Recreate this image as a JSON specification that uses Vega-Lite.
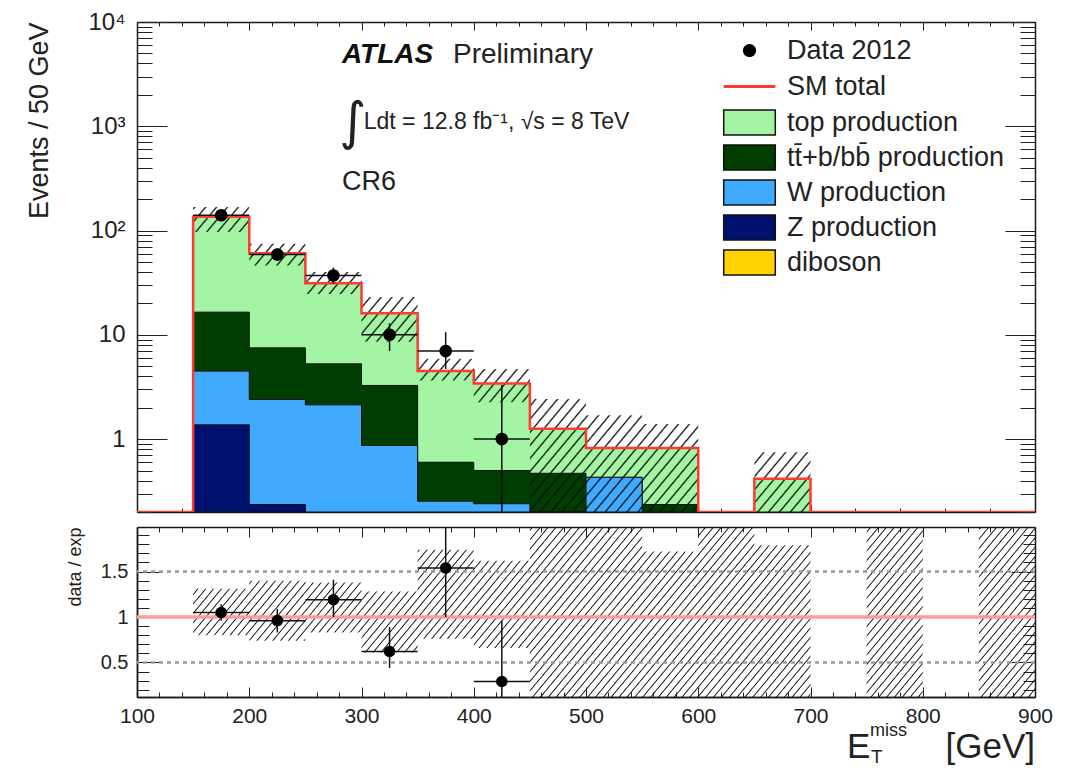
{
"$schema": "https://vega.github.io/schema/vega-lite/v6.json",
"background": "white",
"padding": {"left": 25, "top": 10, "right": 10, "bottom": 0},
"spacing": 2,
"config": {
  "font": "Liberation Sans",
  "view": {"stroke": null},
  "axis": {"domain": true, "domainColor": "#1a1a1a", "domainWidth": 1.5, "grid": false, "zindex": 1, "labelFont": "Liberation Sans", "titleFont": "Liberation Sans", "labelColor": "#222", "titleColor": "#222", "tickColor": "#222", "tickWidth": 1, "titleFontWeight": "normal", "labelOverlap": false, "labelFlush": false, "labelBound": false},
  "legend": {"title": null, "orient": "none", "padding": 0, "labelFont": "Liberation Sans", "labelFontSize": 27, "labelColor": "#222", "labelLimit": 0, "labelOffset": 24, "symbolSize": 576, "rowPadding": 5, "symbolOpacity": 1}
},
"resolve": {"scale": {"color": "independent", "stroke": "independent", "shape": "independent"}, "legend": {"color": "independent", "stroke": "independent", "shape": "independent"}},
"datasets": {
  "sm": [{"x0":100,"v":0},{"x0":150,"v":136},{"x0":200,"v":60.7},{"x0":250,"v":31.3},{"x0":300,"v":16.1},{"x0":350,"v":4.5},{"x0":400,"v":3.42},{"x0":450,"v":1.26},{"x0":500,"v":0.82},{"x0":550,"v":0.82},{"x0":600,"v":0},{"x0":650,"v":0.417},{"x0":700,"v":0},{"x0":750,"v":0},{"x0":800,"v":0},{"x0":850,"v":0},{"x0":900,"v":0}],
  "ttbb": [{"x0":150,"v":16.5,"p":"tt\u0304+b/bb\u0304 production"},{"x0":200,"v":7.5,"p":"tt\u0304+b/bb\u0304 production"},{"x0":250,"v":5.27,"p":"tt\u0304+b/bb\u0304 production"},{"x0":300,"v":3.27,"p":"tt\u0304+b/bb\u0304 production"},{"x0":350,"v":0.6,"p":"tt\u0304+b/bb\u0304 production"},{"x0":400,"v":0.5,"p":"tt\u0304+b/bb\u0304 production"},{"x0":450,"v":0.47,"p":"tt\u0304+b/bb\u0304 production"},{"x0":500,"v":0.43,"p":"tt\u0304+b/bb\u0304 production"},{"x0":550,"v":0.236,"p":"tt\u0304+b/bb\u0304 production"},{"x0":600,"v":0.236,"p":"tt\u0304+b/bb\u0304 production"}],
  "wprod": [{"x0":150,"v":4.49,"p":"W production"},{"x0":200,"v":2.4,"p":"W production"},{"x0":250,"v":2.13,"p":"W production"},{"x0":300,"v":0.87,"p":"W production"},{"x0":350,"v":0.254,"p":"W production"},{"x0":400,"v":0.24,"p":"W production"},{"x0":450,"v":0,"p":"W production"},{"x0":500,"v":0.43,"p":"W production"},{"x0":550,"v":0.43,"p":"W production"}],
  "zprod": [{"x0":150,"v":1.37,"p":"Z production"},{"x0":200,"v":0.236,"p":"Z production"},{"x0":250,"v":0.236,"p":"Z production"}],
  "unc": [{"x0":150,"lo":96.6,"hi":168},{"x0":200,"lo":46.3,"hi":74.6},{"x0":250,"lo":24.7,"hi":40},{"x0":300,"lo":8.6,"hi":23},{"x0":350,"lo":3.65,"hi":5.9},{"x0":400,"lo":2.26,"hi":4.7},{"x0":450,"lo":0,"hi":2.43},{"x0":500,"lo":0,"hi":1.69},{"x0":550,"lo":0,"hi":1.4},{"x0":600,"lo":0,"hi":0},{"x0":650,"lo":0,"hi":0.75},{"x0":700,"lo":0,"hi":0.75}],
  "obs": [{"x":175,"x0":150,"x1":200,"n":140,"lo":128.7,"hi":151.9},{"x":225,"x0":200,"x1":250,"n":59,"lo":51.3,"hi":67.7},{"x":275,"x0":250,"x1":300,"n":37,"lo":30.9,"hi":44.1},{"x":325,"x0":300,"x1":350,"n":10,"lo":7.0,"hi":12.9},{"x":375,"x0":350,"x1":400,"n":7,"lo":4.7,"hi":10.6},{"x":425,"x0":400,"x1":450,"n":1,"lo":0.17,"hi":3.3}],
  "ratio": [{"x":175,"x0":150,"x1":200,"r":1.05,"lo":0.96,"hi":1.14},{"x":225,"x0":200,"x1":250,"r":0.96,"lo":0.83,"hi":1.09},{"x":275,"x0":250,"x1":300,"r":1.19,"lo":1.0,"hi":1.41},{"x":325,"x0":300,"x1":350,"r":0.62,"lo":0.44,"hi":0.89},{"x":375,"x0":350,"x1":400,"r":1.54,"lo":1.0,"hi":2.37},{"x":425,"x0":400,"x1":450,"r":0.29,"lo":0.05,"hi":0.96}],
  "runc": [{"x0":150,"lo":0.8,"hi":1.31},{"x0":200,"lo":0.74,"hi":1.4},{"x0":250,"lo":0.83,"hi":1.38},{"x0":300,"lo":0.61,"hi":1.28},{"x0":350,"lo":0.76,"hi":1.74},{"x0":400,"lo":0.66,"hi":1.62},{"x0":450,"lo":0.12,"hi":1.99},{"x0":500,"lo":0.12,"hi":1.99},{"x0":550,"lo":0.12,"hi":1.72},{"x0":600,"lo":0.12,"hi":1.99},{"x0":650,"lo":0.12,"hi":1.79},{"x0":700,"lo":1,"hi":1},{"x0":750,"lo":0.12,"hi":1.99},{"x0":800,"lo":1,"hi":1},{"x0":850,"lo":0.12,"hi":1.99},{"x0":900,"lo":0.12,"hi":1.99}],
  "refs": [{"r":0.5},{"r":1.5}],
  "unity": [{"r":1}]
},
"vconcat": [
{
  "width": 898, "height": 490,
  "layer": [
    {"layer": [
      {"data": {"name": "sm"},
       "mark": {"type": "area", "interpolate": "step-after", "fill": "#a3f5a3", "stroke": "#111", "strokeWidth": 1, "opacity": 1, "clip": true},
       "encoding": {
         "x": {"field": "x0", "type": "quantitative", "scale": {"domain": [100, 900], "nice": false, "zero": false},
               "axis": {"title": null, "labels": false, "labelOverlap": false, "values": [100,120,140,160,180,200,220,240,260,280,300,320,340,360,380,400,420,440,460,480,500,520,540,560,580,600,620,640,660,680,700,720,740,760,780,800,820,840,860,880,900],
                        "tickSize": {"condition": {"test": "datum.value % 100 === 0", "value": -8}, "value": -4}}},
         "y": {"field": "v", "type": "quantitative", "stack": null, "scale": {"type": "log", "domain": [0.2, 10000], "nice": false, "clamp": true},
               "axis": {"title": "Events / 50 GeV", "titleAnchor": "end", "titleFontSize": 27, "titlePadding": 34, "labelOverlap": false,
                        "values": [0.2,0.3,0.4,0.5,0.6,0.7,0.8,0.9,1,2,3,4,5,6,7,8,9,10,20,30,40,50,60,70,80,90,100,200,300,400,500,600,700,800,900,1000,2000,3000,4000,5000,6000,7000,8000,9000,10000],
                        "labelExpr": "datum.value === 10000 ? '10⁴' : datum.value === 1000 ? '10³' : datum.value === 100 ? '10²' : datum.value === 10 ? '10' : datum.value === 1 ? '1' : ''",
                        "labelFontSize": 24, "labelPadding": 42,
                        "tickSize": {"condition": {"test": "datum.value === 1 || datum.value === 10 || datum.value === 100 || datum.value === 1000 || datum.value === 10000", "value": -30}, "value": -15}}}
       }},
      {"data": {"name": "ttbb"},
       "mark": {"type": "area", "interpolate": "step-after", "stroke": "#111", "strokeWidth": 1, "opacity": 1, "fillOpacity": 1, "clip": true},
       "encoding": {
         "x": {"field": "x0", "type": "quantitative"},
         "y": {"field": "v", "type": "quantitative", "stack": null},
         "color": {"field": "p", "type": "nominal",
                   "scale": {"domain": ["top production", "tt\u0304+b/bb\u0304 production", "W production", "Z production", "diboson"],
                             "range": ["#a3f5a3", "#003d00", "#40aaff", "#00106e", "#ffd200"]},
                   "legend": {"legendX": 599, "legendY": 87, "rowPadding": 2, "symbolType": "M-2.15,-1.05H2.15V1.05H-2.15Z", "symbolStrokeColor": "#111", "symbolStrokeWidth": 1.5}}
       }},
      {"data": {"name": "wprod"},
       "mark": {"type": "area", "interpolate": "step-after", "stroke": "#111", "strokeWidth": 1, "opacity": 1, "fillOpacity": 1, "clip": true},
       "encoding": {
         "x": {"field": "x0", "type": "quantitative"},
         "y": {"field": "v", "type": "quantitative", "stack": null},
         "color": {"field": "p", "type": "nominal"}
       }},
      {"data": {"name": "zprod"},
       "mark": {"type": "area", "interpolate": "step-after", "stroke": "#111", "strokeWidth": 1, "opacity": 1, "fillOpacity": 1, "clip": true},
       "encoding": {
         "x": {"field": "x0", "type": "quantitative"},
         "y": {"field": "v", "type": "quantitative", "stack": null},
         "color": {"field": "p", "type": "nominal"}
       }},
      {"data": {"name": "unc"},
       "mark": {"type": "area", "interpolate": "step-after", "opacity": 1, "clip": true,
                "fill": {"gradient": "linear", "x1": 0, "y1": 0, "x2": 1.2071, "y2": 0.4968, "stops": [
{"offset":0,"color":"transparent"},{"offset":0.0019,"color":"#111"},{"offset":0.0038,"color":"transparent"},{"offset":0.0125,"color":"transparent"},{"offset":0.0144,"color":"#111"},{"offset":0.0163,"color":"transparent"},{"offset":0.025,"color":"transparent"},{"offset":0.0269,"color":"#111"},{"offset":0.0288,"color":"transparent"},{"offset":0.0375,"color":"transparent"},{"offset":0.0394,"color":"#111"},{"offset":0.0413,"color":"transparent"},{"offset":0.05,"color":"transparent"},{"offset":0.0519,"color":"#111"},{"offset":0.0538,"color":"transparent"},{"offset":0.0625,"color":"transparent"},{"offset":0.0644,"color":"#111"},{"offset":0.0663,"color":"transparent"},{"offset":0.075,"color":"transparent"},{"offset":0.0769,"color":"#111"},{"offset":0.0788,"color":"transparent"},{"offset":0.0875,"color":"transparent"},{"offset":0.0894,"color":"#111"},{"offset":0.0913,"color":"transparent"},
{"offset":0.1,"color":"transparent"},{"offset":0.1019,"color":"#111"},{"offset":0.1038,"color":"transparent"},{"offset":0.1125,"color":"transparent"},{"offset":0.1144,"color":"#111"},{"offset":0.1163,"color":"transparent"},{"offset":0.125,"color":"transparent"},{"offset":0.1269,"color":"#111"},{"offset":0.1288,"color":"transparent"},{"offset":0.1375,"color":"transparent"},{"offset":0.1394,"color":"#111"},{"offset":0.1413,"color":"transparent"},{"offset":0.15,"color":"transparent"},{"offset":0.1519,"color":"#111"},{"offset":0.1538,"color":"transparent"},{"offset":0.1625,"color":"transparent"},{"offset":0.1644,"color":"#111"},{"offset":0.1663,"color":"transparent"},{"offset":0.175,"color":"transparent"},{"offset":0.1769,"color":"#111"},{"offset":0.1788,"color":"transparent"},{"offset":0.1875,"color":"transparent"},{"offset":0.1894,"color":"#111"},{"offset":0.1913,"color":"transparent"},
{"offset":0.2,"color":"transparent"},{"offset":0.2019,"color":"#111"},{"offset":0.2038,"color":"transparent"},{"offset":0.2125,"color":"transparent"},{"offset":0.2144,"color":"#111"},{"offset":0.2163,"color":"transparent"},{"offset":0.225,"color":"transparent"},{"offset":0.2269,"color":"#111"},{"offset":0.2288,"color":"transparent"},{"offset":0.2375,"color":"transparent"},{"offset":0.2394,"color":"#111"},{"offset":0.2413,"color":"transparent"},{"offset":0.25,"color":"transparent"},{"offset":0.2519,"color":"#111"},{"offset":0.2538,"color":"transparent"},{"offset":0.2625,"color":"transparent"},{"offset":0.2644,"color":"#111"},{"offset":0.2663,"color":"transparent"},{"offset":0.275,"color":"transparent"},{"offset":0.2769,"color":"#111"},{"offset":0.2788,"color":"transparent"},{"offset":0.2875,"color":"transparent"},{"offset":0.2894,"color":"#111"},{"offset":0.2913,"color":"transparent"},
{"offset":0.3,"color":"transparent"},{"offset":0.3019,"color":"#111"},{"offset":0.3038,"color":"transparent"},{"offset":0.3125,"color":"transparent"},{"offset":0.3144,"color":"#111"},{"offset":0.3163,"color":"transparent"},{"offset":0.325,"color":"transparent"},{"offset":0.3269,"color":"#111"},{"offset":0.3288,"color":"transparent"},{"offset":0.3375,"color":"transparent"},{"offset":0.3394,"color":"#111"},{"offset":0.3413,"color":"transparent"},{"offset":0.35,"color":"transparent"},{"offset":0.3519,"color":"#111"},{"offset":0.3538,"color":"transparent"},{"offset":0.3625,"color":"transparent"},{"offset":0.3644,"color":"#111"},{"offset":0.3663,"color":"transparent"},{"offset":0.375,"color":"transparent"},{"offset":0.3769,"color":"#111"},{"offset":0.3788,"color":"transparent"},{"offset":0.3875,"color":"transparent"},{"offset":0.3894,"color":"#111"},{"offset":0.3913,"color":"transparent"},
{"offset":0.4,"color":"transparent"},{"offset":0.4019,"color":"#111"},{"offset":0.4038,"color":"transparent"},{"offset":0.4125,"color":"transparent"},{"offset":0.4144,"color":"#111"},{"offset":0.4163,"color":"transparent"},{"offset":0.425,"color":"transparent"},{"offset":0.4269,"color":"#111"},{"offset":0.4288,"color":"transparent"},{"offset":0.4375,"color":"transparent"},{"offset":0.4394,"color":"#111"},{"offset":0.4413,"color":"transparent"},{"offset":0.45,"color":"transparent"},{"offset":0.4519,"color":"#111"},{"offset":0.4538,"color":"transparent"},{"offset":0.4625,"color":"transparent"},{"offset":0.4644,"color":"#111"},{"offset":0.4663,"color":"transparent"},{"offset":0.475,"color":"transparent"},{"offset":0.4769,"color":"#111"},{"offset":0.4788,"color":"transparent"},{"offset":0.4875,"color":"transparent"},{"offset":0.4894,"color":"#111"},{"offset":0.4913,"color":"transparent"},
{"offset":0.5,"color":"transparent"},{"offset":0.5019,"color":"#111"},{"offset":0.5038,"color":"transparent"},{"offset":0.5125,"color":"transparent"},{"offset":0.5144,"color":"#111"},{"offset":0.5163,"color":"transparent"},{"offset":0.525,"color":"transparent"},{"offset":0.5269,"color":"#111"},{"offset":0.5288,"color":"transparent"},{"offset":0.5375,"color":"transparent"},{"offset":0.5394,"color":"#111"},{"offset":0.5413,"color":"transparent"},{"offset":0.55,"color":"transparent"},{"offset":0.5519,"color":"#111"},{"offset":0.5538,"color":"transparent"},{"offset":0.5625,"color":"transparent"},{"offset":0.5644,"color":"#111"},{"offset":0.5663,"color":"transparent"},{"offset":0.575,"color":"transparent"},{"offset":0.5769,"color":"#111"},{"offset":0.5788,"color":"transparent"},{"offset":0.5875,"color":"transparent"},{"offset":0.5894,"color":"#111"},{"offset":0.5913,"color":"transparent"},
{"offset":0.6,"color":"transparent"},{"offset":0.6019,"color":"#111"},{"offset":0.6038,"color":"transparent"},{"offset":0.6125,"color":"transparent"},{"offset":0.6144,"color":"#111"},{"offset":0.6163,"color":"transparent"},{"offset":0.625,"color":"transparent"},{"offset":0.6269,"color":"#111"},{"offset":0.6288,"color":"transparent"},{"offset":0.6375,"color":"transparent"},{"offset":0.6394,"color":"#111"},{"offset":0.6413,"color":"transparent"},{"offset":0.65,"color":"transparent"},{"offset":0.6519,"color":"#111"},{"offset":0.6538,"color":"transparent"},{"offset":0.6625,"color":"transparent"},{"offset":0.6644,"color":"#111"},{"offset":0.6663,"color":"transparent"},{"offset":0.675,"color":"transparent"},{"offset":0.6769,"color":"#111"},{"offset":0.6788,"color":"transparent"},{"offset":0.6875,"color":"transparent"},{"offset":0.6894,"color":"#111"},{"offset":0.6913,"color":"transparent"},
{"offset":0.7,"color":"transparent"},{"offset":0.7019,"color":"#111"},{"offset":0.7038,"color":"transparent"},{"offset":0.7125,"color":"transparent"},{"offset":0.7144,"color":"#111"},{"offset":0.7163,"color":"transparent"},{"offset":0.725,"color":"transparent"},{"offset":0.7269,"color":"#111"},{"offset":0.7288,"color":"transparent"},{"offset":0.7375,"color":"transparent"},{"offset":0.7394,"color":"#111"},{"offset":0.7413,"color":"transparent"},{"offset":0.75,"color":"transparent"},{"offset":0.7519,"color":"#111"},{"offset":0.7538,"color":"transparent"},{"offset":0.7625,"color":"transparent"},{"offset":0.7644,"color":"#111"},{"offset":0.7663,"color":"transparent"},{"offset":0.775,"color":"transparent"},{"offset":0.7769,"color":"#111"},{"offset":0.7788,"color":"transparent"},{"offset":0.7875,"color":"transparent"},{"offset":0.7894,"color":"#111"},{"offset":0.7913,"color":"transparent"},
{"offset":0.8,"color":"transparent"},{"offset":0.8019,"color":"#111"},{"offset":0.8038,"color":"transparent"},{"offset":0.8125,"color":"transparent"},{"offset":0.8144,"color":"#111"},{"offset":0.8163,"color":"transparent"},{"offset":0.825,"color":"transparent"},{"offset":0.8269,"color":"#111"},{"offset":0.8288,"color":"transparent"},{"offset":0.8375,"color":"transparent"},{"offset":0.8394,"color":"#111"},{"offset":0.8413,"color":"transparent"},{"offset":0.85,"color":"transparent"},{"offset":0.8519,"color":"#111"},{"offset":0.8538,"color":"transparent"},{"offset":0.8625,"color":"transparent"},{"offset":0.8644,"color":"#111"},{"offset":0.8663,"color":"transparent"},{"offset":0.875,"color":"transparent"},{"offset":0.8769,"color":"#111"},{"offset":0.8788,"color":"transparent"},{"offset":0.8875,"color":"transparent"},{"offset":0.8894,"color":"#111"},{"offset":0.8913,"color":"transparent"},
{"offset":0.9,"color":"transparent"},{"offset":0.9019,"color":"#111"},{"offset":0.9038,"color":"transparent"},{"offset":0.9125,"color":"transparent"},{"offset":0.9144,"color":"#111"},{"offset":0.9163,"color":"transparent"},{"offset":0.925,"color":"transparent"},{"offset":0.9269,"color":"#111"},{"offset":0.9288,"color":"transparent"},{"offset":0.9375,"color":"transparent"},{"offset":0.9394,"color":"#111"},{"offset":0.9413,"color":"transparent"},{"offset":0.95,"color":"transparent"},{"offset":0.9519,"color":"#111"},{"offset":0.9538,"color":"transparent"},{"offset":0.9625,"color":"transparent"},{"offset":0.9644,"color":"#111"},{"offset":0.9663,"color":"transparent"},{"offset":0.975,"color":"transparent"},{"offset":0.9769,"color":"#111"},{"offset":0.9788,"color":"transparent"},{"offset":0.9875,"color":"transparent"},{"offset":0.9894,"color":"#111"},{"offset":0.9913,"color":"transparent"},{"offset":1,"color":"transparent"}
                ]}},
       "encoding": {
         "x": {"field": "x0", "type": "quantitative"},
         "y": {"field": "hi", "type": "quantitative", "stack": null},
         "y2": {"field": "lo"}
       }},
      {"data": {"name": "sm"},
       "mark": {"type": "line", "interpolate": "step-after", "strokeWidth": 2.5, "clip": true},
       "encoding": {
         "x": {"field": "x0", "type": "quantitative"},
         "y": {"field": "v", "type": "quantitative", "stack": null},
         "stroke": {"datum": "SM total", "type": "nominal", "scale": {"domain": ["SM total"], "range": ["#ff3b2f"]},
                    "legend": {"legendX": 599, "legendY": 51, "symbolType": "M-2.15,0H2.15", "symbolStrokeWidth": 3}}
       }},
      {"data": {"name": "obs"},
       "mark": {"type": "rule", "color": "#111", "strokeWidth": 1.5, "clip": true},
       "encoding": {
         "x": {"field": "x", "type": "quantitative"},
         "y": {"field": "lo", "type": "quantitative"},
         "y2": {"field": "hi"}
       }},
      {"data": {"name": "obs"},
       "mark": {"type": "rule", "color": "#111", "strokeWidth": 1.5, "clip": true},
       "encoding": {
         "x": {"field": "x0", "type": "quantitative"},
         "x2": {"field": "x1"},
         "y": {"field": "n", "type": "quantitative"}
       }},
      {"data": {"name": "obs"},
       "mark": {"type": "point", "filled": true, "color": "#000", "opacity": 1, "size": 520, "clip": true},
       "encoding": {
         "x": {"field": "x", "type": "quantitative"},
         "y": {"field": "n", "type": "quantitative"},
         "shape": {"datum": "Data 2012", "type": "nominal", "scale": {"domain": ["Data 2012"], "range": ["M-0.55,0A0.55,0.55 0 1,0 0.55,0A0.55,0.55 0 1,0 -0.55,0Z"]},
                   "legend": {"legendX": 599, "legendY": 15, "symbolFillColor": "#000", "symbolStrokeColor": "#000", "symbolStrokeWidth": 0}}
       }},
      {"data": {"values": [{}]},
       "mark": {"type": "text", "text": "ATLAS", "fontSize": 28, "fontWeight": "bold", "fontStyle": "italic", "align": "left", "baseline": "alphabetic", "color": "#111"},
       "encoding": {"x": {"datum": 282.6}, "y": {"datum": 4045}}},
      {"data": {"values": [{}]},
       "mark": {"type": "text", "text": "Preliminary", "fontSize": 28, "align": "left", "baseline": "alphabetic", "color": "#222"},
       "encoding": {"x": {"datum": 381.5}, "y": {"datum": 4045}}},
      {"data": {"values": [{}]},
       "mark": {"type": "text", "text": "∫", "font": "DejaVu Sans", "fontSize": 52, "align": "left", "baseline": "middle", "color": "#222"},
       "encoding": {"x": {"datum": 280}, "y": {"datum": 1075}}},
      {"data": {"values": [{}]},
       "mark": {"type": "text", "text": "Ldt = 12.8 fb⁻¹, √s = 8 TeV", "fontSize": 23, "align": "left", "baseline": "alphabetic", "color": "#222"},
       "encoding": {"x": {"datum": 302}, "y": {"datum": 942}}},
      {"data": {"values": [{}]},
       "mark": {"type": "text", "text": "CR6", "fontSize": 27, "align": "left", "baseline": "alphabetic", "color": "#222"},
       "encoding": {"x": {"datum": 282.6}, "y": {"datum": 245}}}
    ]},
    {"data": {"values": [{}]},
     "mark": {"type": "point", "opacity": 0},
     "encoding": {
       "x": {"datum": 500, "type": "quantitative", "scale": {"domain": [100, 900], "nice": false, "zero": false},
             "axis": {"orient": "top", "title": null, "labels": false, "labelOverlap": false, "values": [100,120,140,160,180,200,220,240,260,280,300,320,340,360,380,400,420,440,460,480,500,520,540,560,580,600,620,640,660,680,700,720,740,760,780,800,820,840,860,880,900],
                      "tickSize": {"condition": {"test": "datum.value % 100 === 0", "value": -8}, "value": -4}}},
       "y": {"datum": 1, "type": "quantitative", "scale": {"type": "log", "domain": [0.2, 10000], "nice": false},
             "axis": {"orient": "right", "title": null, "labels": false, "labelOverlap": false,
                      "values": [0.2,0.3,0.4,0.5,0.6,0.7,0.8,0.9,1,2,3,4,5,6,7,8,9,10,20,30,40,50,60,70,80,90,100,200,300,400,500,600,700,800,900,1000,2000,3000,4000,5000,6000,7000,8000,9000,10000],
                      "tickSize": {"condition": {"test": "datum.value === 1 || datum.value === 10 || datum.value === 100 || datum.value === 1000 || datum.value === 10000", "value": -30}, "value": -15}}}
     }}
  ],
  "resolve": {"scale": {"x": "independent", "y": "independent"}}
},
{
  "width": 898, "height": 170,
  "layer": [
    {"layer": [
      {"data": {"name": "runc"},
       "mark": {"type": "area", "interpolate": "step-after", "opacity": 1, "clip": true,
                "fill": {"gradient": "linear", "x1": 0, "y1": 0, "x2": 1.1361, "y2": 0.1911, "stops": [
{"offset":0,"color":"transparent"},{"offset":0.0012,"color":"#111"},{"offset":0.0024,"color":"transparent"},{"offset":0.008,"color":"transparent"},{"offset":0.0092,"color":"#111"},{"offset":0.0104,"color":"transparent"},{"offset":0.016,"color":"transparent"},{"offset":0.0172,"color":"#111"},{"offset":0.0184,"color":"transparent"},{"offset":0.024,"color":"transparent"},{"offset":0.0252,"color":"#111"},{"offset":0.0264,"color":"transparent"},{"offset":0.032,"color":"transparent"},{"offset":0.0332,"color":"#111"},{"offset":0.0344,"color":"transparent"},
{"offset":0.04,"color":"transparent"},{"offset":0.0412,"color":"#111"},{"offset":0.0424,"color":"transparent"},{"offset":0.048,"color":"transparent"},{"offset":0.0492,"color":"#111"},{"offset":0.0504,"color":"transparent"},{"offset":0.056,"color":"transparent"},{"offset":0.0572,"color":"#111"},{"offset":0.0584,"color":"transparent"},{"offset":0.064,"color":"transparent"},{"offset":0.0652,"color":"#111"},{"offset":0.0664,"color":"transparent"},{"offset":0.072,"color":"transparent"},{"offset":0.0732,"color":"#111"},{"offset":0.0744,"color":"transparent"},
{"offset":0.08,"color":"transparent"},{"offset":0.0812,"color":"#111"},{"offset":0.0824,"color":"transparent"},{"offset":0.088,"color":"transparent"},{"offset":0.0892,"color":"#111"},{"offset":0.0904,"color":"transparent"},{"offset":0.096,"color":"transparent"},{"offset":0.0972,"color":"#111"},{"offset":0.0984,"color":"transparent"},{"offset":0.104,"color":"transparent"},{"offset":0.1052,"color":"#111"},{"offset":0.1064,"color":"transparent"},{"offset":0.112,"color":"transparent"},{"offset":0.1132,"color":"#111"},{"offset":0.1144,"color":"transparent"},
{"offset":0.12,"color":"transparent"},{"offset":0.1212,"color":"#111"},{"offset":0.1224,"color":"transparent"},{"offset":0.128,"color":"transparent"},{"offset":0.1292,"color":"#111"},{"offset":0.1304,"color":"transparent"},{"offset":0.136,"color":"transparent"},{"offset":0.1372,"color":"#111"},{"offset":0.1384,"color":"transparent"},{"offset":0.144,"color":"transparent"},{"offset":0.1452,"color":"#111"},{"offset":0.1464,"color":"transparent"},{"offset":0.152,"color":"transparent"},{"offset":0.1532,"color":"#111"},{"offset":0.1544,"color":"transparent"},
{"offset":0.16,"color":"transparent"},{"offset":0.1612,"color":"#111"},{"offset":0.1624,"color":"transparent"},{"offset":0.168,"color":"transparent"},{"offset":0.1692,"color":"#111"},{"offset":0.1704,"color":"transparent"},{"offset":0.176,"color":"transparent"},{"offset":0.1772,"color":"#111"},{"offset":0.1784,"color":"transparent"},{"offset":0.184,"color":"transparent"},{"offset":0.1852,"color":"#111"},{"offset":0.1864,"color":"transparent"},{"offset":0.192,"color":"transparent"},{"offset":0.1932,"color":"#111"},{"offset":0.1944,"color":"transparent"},
{"offset":0.2,"color":"transparent"},{"offset":0.2012,"color":"#111"},{"offset":0.2024,"color":"transparent"},{"offset":0.208,"color":"transparent"},{"offset":0.2092,"color":"#111"},{"offset":0.2104,"color":"transparent"},{"offset":0.216,"color":"transparent"},{"offset":0.2172,"color":"#111"},{"offset":0.2184,"color":"transparent"},{"offset":0.224,"color":"transparent"},{"offset":0.2252,"color":"#111"},{"offset":0.2264,"color":"transparent"},{"offset":0.232,"color":"transparent"},{"offset":0.2332,"color":"#111"},{"offset":0.2344,"color":"transparent"},
{"offset":0.24,"color":"transparent"},{"offset":0.2412,"color":"#111"},{"offset":0.2424,"color":"transparent"},{"offset":0.248,"color":"transparent"},{"offset":0.2492,"color":"#111"},{"offset":0.2504,"color":"transparent"},{"offset":0.256,"color":"transparent"},{"offset":0.2572,"color":"#111"},{"offset":0.2584,"color":"transparent"},{"offset":0.264,"color":"transparent"},{"offset":0.2652,"color":"#111"},{"offset":0.2664,"color":"transparent"},{"offset":0.272,"color":"transparent"},{"offset":0.2732,"color":"#111"},{"offset":0.2744,"color":"transparent"},
{"offset":0.28,"color":"transparent"},{"offset":0.2812,"color":"#111"},{"offset":0.2824,"color":"transparent"},{"offset":0.288,"color":"transparent"},{"offset":0.2892,"color":"#111"},{"offset":0.2904,"color":"transparent"},{"offset":0.296,"color":"transparent"},{"offset":0.2972,"color":"#111"},{"offset":0.2984,"color":"transparent"},{"offset":0.304,"color":"transparent"},{"offset":0.3052,"color":"#111"},{"offset":0.3064,"color":"transparent"},{"offset":0.312,"color":"transparent"},{"offset":0.3132,"color":"#111"},{"offset":0.3144,"color":"transparent"},
{"offset":0.32,"color":"transparent"},{"offset":0.3212,"color":"#111"},{"offset":0.3224,"color":"transparent"},{"offset":0.328,"color":"transparent"},{"offset":0.3292,"color":"#111"},{"offset":0.3304,"color":"transparent"},{"offset":0.336,"color":"transparent"},{"offset":0.3372,"color":"#111"},{"offset":0.3384,"color":"transparent"},{"offset":0.344,"color":"transparent"},{"offset":0.3452,"color":"#111"},{"offset":0.3464,"color":"transparent"},{"offset":0.352,"color":"transparent"},{"offset":0.3532,"color":"#111"},{"offset":0.3544,"color":"transparent"},
{"offset":0.36,"color":"transparent"},{"offset":0.3612,"color":"#111"},{"offset":0.3624,"color":"transparent"},{"offset":0.368,"color":"transparent"},{"offset":0.3692,"color":"#111"},{"offset":0.3704,"color":"transparent"},{"offset":0.376,"color":"transparent"},{"offset":0.3772,"color":"#111"},{"offset":0.3784,"color":"transparent"},{"offset":0.384,"color":"transparent"},{"offset":0.3852,"color":"#111"},{"offset":0.3864,"color":"transparent"},{"offset":0.392,"color":"transparent"},{"offset":0.3932,"color":"#111"},{"offset":0.3944,"color":"transparent"},
{"offset":0.4,"color":"transparent"},{"offset":0.4012,"color":"#111"},{"offset":0.4024,"color":"transparent"},{"offset":0.408,"color":"transparent"},{"offset":0.4092,"color":"#111"},{"offset":0.4104,"color":"transparent"},{"offset":0.416,"color":"transparent"},{"offset":0.4172,"color":"#111"},{"offset":0.4184,"color":"transparent"},{"offset":0.424,"color":"transparent"},{"offset":0.4252,"color":"#111"},{"offset":0.4264,"color":"transparent"},{"offset":0.432,"color":"transparent"},{"offset":0.4332,"color":"#111"},{"offset":0.4344,"color":"transparent"},
{"offset":0.44,"color":"transparent"},{"offset":0.4412,"color":"#111"},{"offset":0.4424,"color":"transparent"},{"offset":0.448,"color":"transparent"},{"offset":0.4492,"color":"#111"},{"offset":0.4504,"color":"transparent"},{"offset":0.456,"color":"transparent"},{"offset":0.4572,"color":"#111"},{"offset":0.4584,"color":"transparent"},{"offset":0.464,"color":"transparent"},{"offset":0.4652,"color":"#111"},{"offset":0.4664,"color":"transparent"},{"offset":0.472,"color":"transparent"},{"offset":0.4732,"color":"#111"},{"offset":0.4744,"color":"transparent"},
{"offset":0.48,"color":"transparent"},{"offset":0.4812,"color":"#111"},{"offset":0.4824,"color":"transparent"},{"offset":0.488,"color":"transparent"},{"offset":0.4892,"color":"#111"},{"offset":0.4904,"color":"transparent"},{"offset":0.496,"color":"transparent"},{"offset":0.4972,"color":"#111"},{"offset":0.4984,"color":"transparent"},{"offset":0.504,"color":"transparent"},{"offset":0.5052,"color":"#111"},{"offset":0.5064,"color":"transparent"},{"offset":0.512,"color":"transparent"},{"offset":0.5132,"color":"#111"},{"offset":0.5144,"color":"transparent"},
{"offset":0.52,"color":"transparent"},{"offset":0.5212,"color":"#111"},{"offset":0.5224,"color":"transparent"},{"offset":0.528,"color":"transparent"},{"offset":0.5292,"color":"#111"},{"offset":0.5304,"color":"transparent"},{"offset":0.536,"color":"transparent"},{"offset":0.5372,"color":"#111"},{"offset":0.5384,"color":"transparent"},{"offset":0.544,"color":"transparent"},{"offset":0.5452,"color":"#111"},{"offset":0.5464,"color":"transparent"},{"offset":0.552,"color":"transparent"},{"offset":0.5532,"color":"#111"},{"offset":0.5544,"color":"transparent"},
{"offset":0.56,"color":"transparent"},{"offset":0.5612,"color":"#111"},{"offset":0.5624,"color":"transparent"},{"offset":0.568,"color":"transparent"},{"offset":0.5692,"color":"#111"},{"offset":0.5704,"color":"transparent"},{"offset":0.576,"color":"transparent"},{"offset":0.5772,"color":"#111"},{"offset":0.5784,"color":"transparent"},{"offset":0.584,"color":"transparent"},{"offset":0.5852,"color":"#111"},{"offset":0.5864,"color":"transparent"},{"offset":0.592,"color":"transparent"},{"offset":0.5932,"color":"#111"},{"offset":0.5944,"color":"transparent"},
{"offset":0.6,"color":"transparent"},{"offset":0.6012,"color":"#111"},{"offset":0.6024,"color":"transparent"},{"offset":0.608,"color":"transparent"},{"offset":0.6092,"color":"#111"},{"offset":0.6104,"color":"transparent"},{"offset":0.616,"color":"transparent"},{"offset":0.6172,"color":"#111"},{"offset":0.6184,"color":"transparent"},{"offset":0.624,"color":"transparent"},{"offset":0.6252,"color":"#111"},{"offset":0.6264,"color":"transparent"},{"offset":0.632,"color":"transparent"},{"offset":0.6332,"color":"#111"},{"offset":0.6344,"color":"transparent"},
{"offset":0.64,"color":"transparent"},{"offset":0.6412,"color":"#111"},{"offset":0.6424,"color":"transparent"},{"offset":0.648,"color":"transparent"},{"offset":0.6492,"color":"#111"},{"offset":0.6504,"color":"transparent"},{"offset":0.656,"color":"transparent"},{"offset":0.6572,"color":"#111"},{"offset":0.6584,"color":"transparent"},{"offset":0.664,"color":"transparent"},{"offset":0.6652,"color":"#111"},{"offset":0.6664,"color":"transparent"},{"offset":0.672,"color":"transparent"},{"offset":0.6732,"color":"#111"},{"offset":0.6744,"color":"transparent"},
{"offset":0.68,"color":"transparent"},{"offset":0.6812,"color":"#111"},{"offset":0.6824,"color":"transparent"},{"offset":0.688,"color":"transparent"},{"offset":0.6892,"color":"#111"},{"offset":0.6904,"color":"transparent"},{"offset":0.696,"color":"transparent"},{"offset":0.6972,"color":"#111"},{"offset":0.6984,"color":"transparent"},{"offset":0.704,"color":"transparent"},{"offset":0.7052,"color":"#111"},{"offset":0.7064,"color":"transparent"},{"offset":0.712,"color":"transparent"},{"offset":0.7132,"color":"#111"},{"offset":0.7144,"color":"transparent"},
{"offset":0.72,"color":"transparent"},{"offset":0.7212,"color":"#111"},{"offset":0.7224,"color":"transparent"},{"offset":0.728,"color":"transparent"},{"offset":0.7292,"color":"#111"},{"offset":0.7304,"color":"transparent"},{"offset":0.736,"color":"transparent"},{"offset":0.7372,"color":"#111"},{"offset":0.7384,"color":"transparent"},{"offset":0.744,"color":"transparent"},{"offset":0.7452,"color":"#111"},{"offset":0.7464,"color":"transparent"},{"offset":0.752,"color":"transparent"},{"offset":0.7532,"color":"#111"},{"offset":0.7544,"color":"transparent"},
{"offset":0.76,"color":"transparent"},{"offset":0.7612,"color":"#111"},{"offset":0.7624,"color":"transparent"},{"offset":0.768,"color":"transparent"},{"offset":0.7692,"color":"#111"},{"offset":0.7704,"color":"transparent"},{"offset":0.776,"color":"transparent"},{"offset":0.7772,"color":"#111"},{"offset":0.7784,"color":"transparent"},{"offset":0.784,"color":"transparent"},{"offset":0.7852,"color":"#111"},{"offset":0.7864,"color":"transparent"},{"offset":0.792,"color":"transparent"},{"offset":0.7932,"color":"#111"},{"offset":0.7944,"color":"transparent"},
{"offset":0.8,"color":"transparent"},{"offset":0.8012,"color":"#111"},{"offset":0.8024,"color":"transparent"},{"offset":0.808,"color":"transparent"},{"offset":0.8092,"color":"#111"},{"offset":0.8104,"color":"transparent"},{"offset":0.816,"color":"transparent"},{"offset":0.8172,"color":"#111"},{"offset":0.8184,"color":"transparent"},{"offset":0.824,"color":"transparent"},{"offset":0.8252,"color":"#111"},{"offset":0.8264,"color":"transparent"},{"offset":0.832,"color":"transparent"},{"offset":0.8332,"color":"#111"},{"offset":0.8344,"color":"transparent"},
{"offset":0.84,"color":"transparent"},{"offset":0.8412,"color":"#111"},{"offset":0.8424,"color":"transparent"},{"offset":0.848,"color":"transparent"},{"offset":0.8492,"color":"#111"},{"offset":0.8504,"color":"transparent"},{"offset":0.856,"color":"transparent"},{"offset":0.8572,"color":"#111"},{"offset":0.8584,"color":"transparent"},{"offset":0.864,"color":"transparent"},{"offset":0.8652,"color":"#111"},{"offset":0.8664,"color":"transparent"},{"offset":0.872,"color":"transparent"},{"offset":0.8732,"color":"#111"},{"offset":0.8744,"color":"transparent"},
{"offset":0.88,"color":"transparent"},{"offset":0.8812,"color":"#111"},{"offset":0.8824,"color":"transparent"},{"offset":0.888,"color":"transparent"},{"offset":0.8892,"color":"#111"},{"offset":0.8904,"color":"transparent"},{"offset":0.896,"color":"transparent"},{"offset":0.8972,"color":"#111"},{"offset":0.8984,"color":"transparent"},{"offset":0.904,"color":"transparent"},{"offset":0.9052,"color":"#111"},{"offset":0.9064,"color":"transparent"},{"offset":0.912,"color":"transparent"},{"offset":0.9132,"color":"#111"},{"offset":0.9144,"color":"transparent"},
{"offset":0.92,"color":"transparent"},{"offset":0.9212,"color":"#111"},{"offset":0.9224,"color":"transparent"},{"offset":0.928,"color":"transparent"},{"offset":0.9292,"color":"#111"},{"offset":0.9304,"color":"transparent"},{"offset":0.936,"color":"transparent"},{"offset":0.9372,"color":"#111"},{"offset":0.9384,"color":"transparent"},{"offset":0.944,"color":"transparent"},{"offset":0.9452,"color":"#111"},{"offset":0.9464,"color":"transparent"},{"offset":0.952,"color":"transparent"},{"offset":0.9532,"color":"#111"},{"offset":0.9544,"color":"transparent"},
{"offset":0.96,"color":"transparent"},{"offset":0.9612,"color":"#111"},{"offset":0.9624,"color":"transparent"},{"offset":0.968,"color":"transparent"},{"offset":0.9692,"color":"#111"},{"offset":0.9704,"color":"transparent"},{"offset":0.976,"color":"transparent"},{"offset":0.9772,"color":"#111"},{"offset":0.9784,"color":"transparent"},{"offset":0.984,"color":"transparent"},{"offset":0.9852,"color":"#111"},{"offset":0.9864,"color":"transparent"},{"offset":0.992,"color":"transparent"},{"offset":0.9932,"color":"#111"},{"offset":0.9944,"color":"transparent"},{"offset":1,"color":"transparent"}
                ]}},
       "encoding": {
         "x": {"field": "x0", "type": "quantitative", "scale": {"domain": [100, 900], "nice": false, "zero": false},
               "axis": {"title": null, "labelOverlap": false, "values": [100,200,300,400,500,600,700,800,900],
                        "labelFontSize": 21, "labelPadding": 18, "tickSize": -10}},
         "y": {"field": "hi", "type": "quantitative", "stack": null, "scale": {"domain": [0.12, 1.99], "nice": false, "zero": false},
               "axis": {"title": "data / exp", "titleAnchor": "end", "titleFontSize": 18, "titlePadding": 16, "labelOverlap": false,
                        "values": [0.5, 1, 1.5],
                        "labelExpr": "datum.value === 0.5 ? '0.5' : datum.value === 1 ? '1' : '1.5'",
                        "labelFontSize": 20, "labelPadding": 33, "tickSize": -24}},
         "y2": {"field": "lo"}
       }},
      {"data": {"name": "refs"},
       "mark": {"type": "rule", "color": "#9a9a9a", "strokeWidth": 2.5, "strokeDash": [4, 4]},
       "encoding": {"y": {"field": "r", "type": "quantitative"}}},
      {"data": {"name": "unity"},
       "mark": {"type": "rule", "color": "#ff9a9a", "strokeWidth": 3.5},
       "encoding": {"y": {"field": "r", "type": "quantitative"}}},
      {"data": {"name": "ratio"},
       "mark": {"type": "rule", "color": "#111", "strokeWidth": 1.5, "clip": true},
       "encoding": {
         "x": {"field": "x", "type": "quantitative"},
         "y": {"field": "lo", "type": "quantitative"},
         "y2": {"field": "hi"}
       }},
      {"data": {"name": "ratio"},
       "mark": {"type": "rule", "color": "#111", "strokeWidth": 1.5, "clip": true},
       "encoding": {
         "x": {"field": "x0", "type": "quantitative"},
         "x2": {"field": "x1"},
         "y": {"field": "r", "type": "quantitative"}
       }},
      {"data": {"name": "ratio"},
       "mark": {"type": "point", "filled": true, "color": "#000", "opacity": 1, "size": 133, "clip": true},
       "encoding": {
         "x": {"field": "x", "type": "quantitative"},
         "y": {"field": "r", "type": "quantitative"}
       }},
      {"data": {"values": [{}]},
       "mark": {"type": "text", "text": "E", "fontSize": 35, "align": "left", "baseline": "alphabetic", "color": "#222"},
       "encoding": {"x": {"datum": 732.5}, "y": {"datum": -0.55}}},
      {"data": {"values": [{}]},
       "mark": {"type": "text", "text": "miss", "fontSize": 18, "align": "left", "baseline": "alphabetic", "color": "#222"},
       "encoding": {"x": {"datum": 753}, "y": {"datum": -0.31}}},
      {"data": {"values": [{}]},
       "mark": {"type": "text", "text": "T", "fontSize": 19, "align": "left", "baseline": "alphabetic", "color": "#222"},
       "encoding": {"x": {"datum": 754}, "y": {"datum": -0.61}}},
      {"data": {"values": [{}]},
       "mark": {"type": "text", "text": "[GeV]", "fontSize": 35, "align": "right", "baseline": "alphabetic", "color": "#222"},
       "encoding": {"x": {"datum": 900}, "y": {"datum": -0.55}}}
    ]},
    {"data": {"values": [{}]},
     "mark": {"type": "point", "opacity": 0},
     "encoding": {
       "x": {"datum": 500, "type": "quantitative", "scale": {"domain": [100, 900], "nice": false, "zero": false},
             "axis": {"orient": "top", "title": null, "labels": false, "labelOverlap": false, "values": [100,120,140,160,180,200,220,240,260,280,300,320,340,360,380,400,420,440,460,480,500,520,540,560,580,600,620,640,660,680,700,720,740,760,780,800,820,840,860,880,900],
                      "tickSize": {"condition": {"test": "datum.value % 100 === 0", "value": -10}, "value": -5}}},
       "y": {"datum": 1, "type": "quantitative", "scale": {"domain": [0.12, 1.99], "nice": false, "zero": false},
             "axis": {"orient": "right", "title": null, "labels": false, "labelOverlap": false,
                      "values": [0.2,0.3,0.4,0.5,0.6,0.7,0.8,0.9,1,1.1,1.2,1.3,1.4,1.5,1.6,1.7,1.8,1.9],
                      "tickSize": {"condition": {"test": "datum.value === 0.5 || datum.value === 1 || datum.value === 1.5", "value": -24}, "value": -12}}}
     }},
    {"data": {"values": [{}]},
     "mark": {"type": "point", "opacity": 0},
     "encoding": {
       "x": {"datum": 500, "type": "quantitative", "scale": {"domain": [100, 900], "nice": false, "zero": false},
             "axis": {"orient": "bottom", "title": null, "labels": false, "values": [120,140,160,180,220,240,260,280,320,340,360,380,420,440,460,480,520,540,560,580,620,640,660,680,720,740,760,780,820,840,860,880],
                      "tickSize": -5}},
       "y": {"datum": 1, "type": "quantitative", "scale": {"domain": [0.12, 1.99], "nice": false, "zero": false},
             "axis": {"orient": "left", "title": null, "labels": false,
                      "values": [0.2,0.3,0.4,0.6,0.7,0.8,0.9,1.1,1.2,1.3,1.4,1.6,1.7,1.8,1.9],
                      "tickSize": -12}}
     }}
  ],
  "resolve": {"scale": {"x": "independent", "y": "independent"}}
}
]
}
